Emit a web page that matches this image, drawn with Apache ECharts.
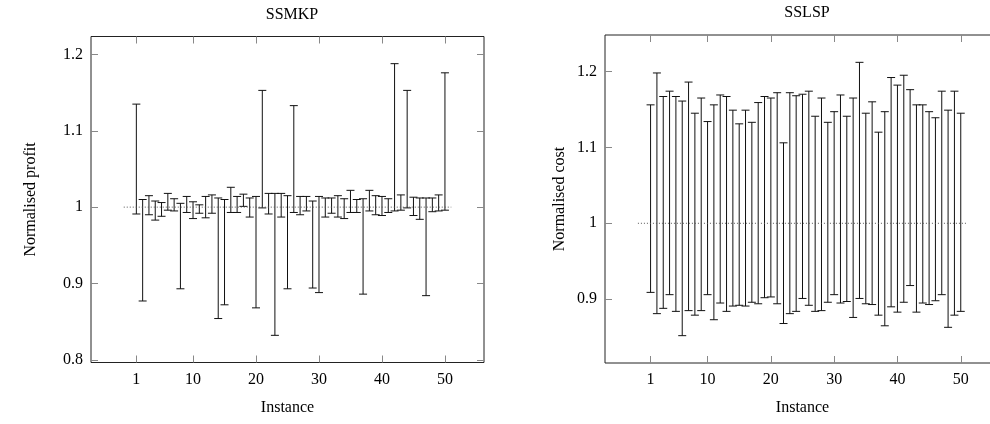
<!DOCTYPE html>
<html>
<head>
<meta charset="utf-8">
<script src="https://cdn.jsdelivr.net/npm/echarts@6/dist/echarts.min.js"></script>
<style>
html,body{margin:0;padding:0;background:#fff;}
#chart{width:990px;height:424px;}
</style>
</head>
<body>
<div id="chart"></div>
<script>
const instances = [1,2,3,4,5,6,7,8,9,10,11,12,13,14,15,16,17,18,19,20,21,22,23,24,25,26,27,28,29,30,31,32,33,34,35,36,37,38,39,40,41,42,43,44,45,46,47,48,49,50];
const xTicks = [1,10,20,30,40,50];
const profitTicks = [0.8,0.9,1,1.1,1.2];
const costTicks = [0.9,1,1.1,1.2];

const ssmkpHigh = [1.135,1.010,1.015,1.008,1.006,1.018,1.011,1.005,1.014,1.007,
                   1.003,1.014,1.016,1.012,1.010,1.026,1.014,1.017,1.012,1.014,
                   1.153,1.018,1.018,1.018,1.015,1.133,1.014,1.014,1.008,1.014,
                   1.012,1.012,1.015,1.011,1.022,1.010,1.011,1.022,1.015,1.014,
                   1.011,1.188,1.016,1.153,1.013,1.012,1.012,1.012,1.016,1.176];
const ssmkpLow  = [0.991,0.877,0.990,0.983,0.988,0.996,0.995,0.893,0.993,0.985,
                   0.992,0.986,0.992,0.854,0.872,0.993,0.993,1.001,0.987,0.868,
                   0.999,0.991,0.832,0.987,0.893,0.993,0.990,0.995,0.894,0.888,
                   0.987,0.992,0.987,0.985,0.993,0.993,0.886,0.995,0.990,0.989,
                   0.993,0.995,0.996,0.999,0.989,0.984,0.884,0.994,0.995,0.996];

const sslspHigh = [1.156,1.198,1.167,1.174,1.167,1.161,1.186,1.145,1.165,1.134,
                   1.156,1.169,1.167,1.149,1.131,1.149,1.133,1.159,1.167,1.165,
                   1.172,1.106,1.172,1.168,1.170,1.174,1.141,1.165,1.133,1.147,
                   1.169,1.141,1.165,1.212,1.145,1.160,1.120,1.147,1.192,1.182,
                   1.195,1.176,1.156,1.156,1.147,1.139,1.174,1.149,1.174,1.145];
const sslspLow  = [0.909,0.881,0.888,0.906,0.884,0.852,0.885,0.879,0.885,0.906,
                   0.873,0.895,0.884,0.891,0.892,0.891,0.896,0.894,0.902,0.903,
                   0.894,0.868,0.881,0.884,0.901,0.892,0.884,0.885,0.896,0.906,
                   0.895,0.897,0.876,0.901,0.894,0.893,0.879,0.865,0.890,0.883,
                   0.896,0.918,0.883,0.895,0.893,0.898,0.906,0.863,0.879,0.884];

const refLineX = [-1, 51];
const refLineY = [1, 1];

const FONT = 'Liberation Serif';
const FS = 16;

function rangeData(high, low) {
  return instances.map((x, i) => [x, low[i], high[i]]);
}

function renderBar(params, api) {
  const x = api.value(0), lo = api.value(1), hi = api.value(2);
  const pt = api.coord([x, hi]);
  const pb = api.coord([x, lo]);
  const w = 4;
  const st = {stroke: '#111', lineWidth: 1};
  return {type: 'group', children: [
    {type: 'line', shape: {x1: pt[0], y1: pt[1], x2: pb[0], y2: pb[1]}, style: st},
    {type: 'line', shape: {x1: pt[0]-w, y1: pt[1], x2: pt[0]+w, y2: pt[1]}, style: st},
    {type: 'line', shape: {x1: pb[0]-w, y1: pb[1], x2: pb[0]+w, y2: pb[1]}, style: st}
  ]};
}

const tickStyle = {show: true, inside: true, length: 7, lineStyle: {color: '#888', width: 1}};
const noLine = {show: false, onZero: false};

function xAxes(gridIndex) {
  return [
    {type: 'value', gridIndex, position: 'bottom', min: -6.2, max: 56.2,
     name: 'Instance', nameLocation: 'middle', nameGap: 37,
     nameTextStyle: {fontFamily: FONT, fontSize: FS, color: '#000'},
     axisLine: noLine, splitLine: {show: false},
     axisTick: Object.assign({customValues: xTicks}, tickStyle),
     axisLabel: {customValues: xTicks, fontFamily: FONT, fontSize: FS, color: '#000', margin: 9}},
    {type: 'value', gridIndex, position: 'top', min: -6.2, max: 56.2,
     axisLine: noLine, splitLine: {show: false},
     axisTick: Object.assign({customValues: xTicks}, tickStyle),
     axisLabel: {show: false}}
  ];
}

function yAxes(gridIndex, min, max, ticks, name, gap) {
  return [
    {type: 'value', gridIndex, position: 'left', min, max,
     name, nameLocation: 'middle', nameGap: gap, nameRotate: 90,
     nameTextStyle: {fontFamily: FONT, fontSize: FS, color: '#000'},
     axisLine: noLine, splitLine: {show: false},
     axisTick: Object.assign({customValues: ticks}, tickStyle),
     axisLabel: {customValues: ticks, fontFamily: FONT, fontSize: FS, color: '#000', margin: 8}},
    {type: 'value', gridIndex, position: 'right', min, max,
     axisLine: noLine, splitLine: {show: false},
     axisTick: Object.assign({customValues: ticks}, tickStyle),
     axisLabel: {show: false}}
  ];
}

const chart = echarts.init(document.getElementById('chart'), null, {renderer: 'canvas'});
chart.setOption({
  animation: false,
  backgroundColor: '#fff',
  title: [
    {text: 'SSMKP', left: 287, top: 2, textAlign: 'center',
     textStyle: {fontFamily: FONT, fontSize: FS, fontWeight: 'normal', color: '#000'}},
    {text: 'SSLSP', left: 802, top: 0, textAlign: 'center',
     textStyle: {fontFamily: FONT, fontSize: FS, fontWeight: 'normal', color: '#000'}}
  ],
  grid: [
    {left: 91, top: 36.5, width: 393, height: 326, containLabel: false, outerBoundsMode: 'none',
     show: true, borderColor: '#222', borderWidth: 1, backgroundColor: 'transparent'},
    {left: 605, top: 35, width: 395, height: 328, containLabel: false, outerBoundsMode: 'none',
     show: true, borderColor: '#222', borderWidth: 1, backgroundColor: 'transparent'}
  ],
  xAxis: xAxes(0).concat(xAxes(1)),
  yAxis: yAxes(0, 0.7964, 1.2236, profitTicks, 'Normalised profit', 52)
    .concat(yAxes(1, 0.816, 1.248, costTicks, 'Normalised cost', 37)),
  series: [
    {type: 'line', xAxisIndex: 0, yAxisIndex: 0, symbol: 'none',
     data: refLineX.map((x, i) => [x, refLineY[i]]),
     lineStyle: {color: '#555', width: 1, type: [1, 2]}},
    {type: 'custom', xAxisIndex: 0, yAxisIndex: 0, renderItem: renderBar,
     encode: {x: 0, y: [1, 2]}, data: rangeData(ssmkpHigh, ssmkpLow)},
    {type: 'line', xAxisIndex: 2, yAxisIndex: 2, symbol: 'none',
     data: refLineX.map((x, i) => [x, refLineY[i]]),
     lineStyle: {color: '#555', width: 1, type: [1, 2]}},
    {type: 'custom', xAxisIndex: 2, yAxisIndex: 2, renderItem: renderBar,
     encode: {x: 0, y: [1, 2]}, data: rangeData(sslspHigh, sslspLow)}
  ]
});
</script>
</body>
</html>
